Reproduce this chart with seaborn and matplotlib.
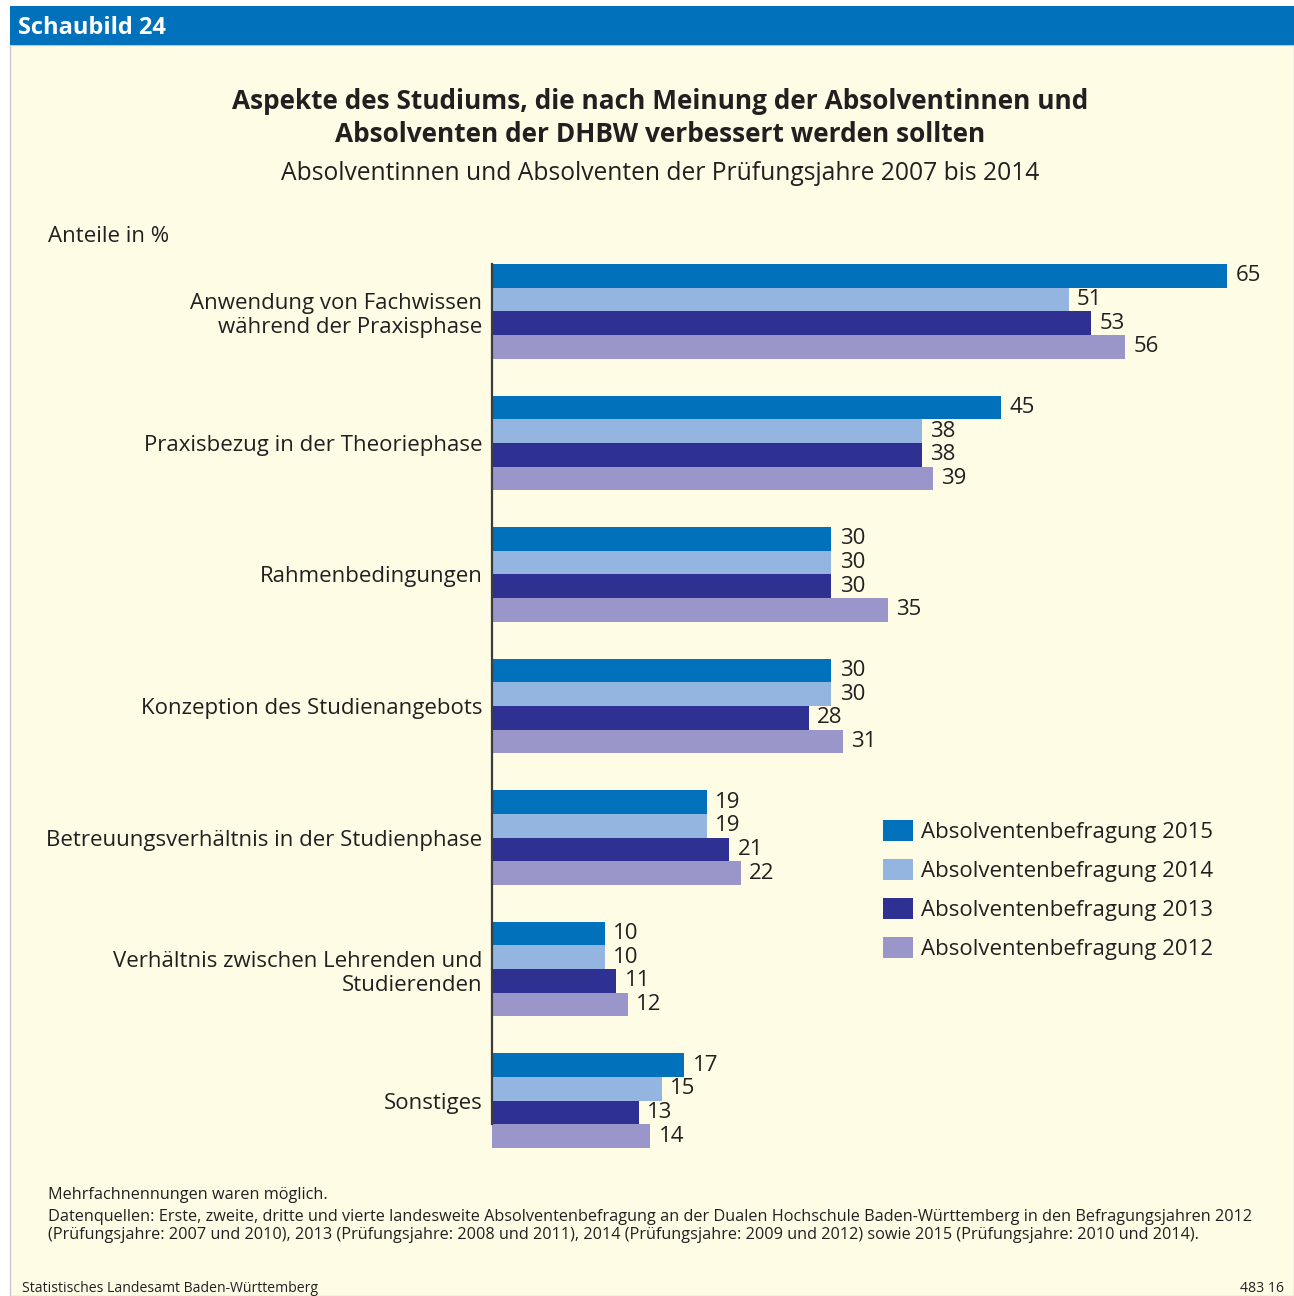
import pandas as pd
import matplotlib.pyplot as plt
import seaborn as sns
from matplotlib.patches import Patch, Rectangle

# === Data ===
categories = [
    "Anwendung von Fachwissen\nwährend der Praxisphase",
    "Praxisbezug in der Theoriephase",
    "Rahmenbedingungen",
    "Konzeption des Studienangebots",
    "Betreuungsverhältnis in der Studienphase",
    "Verhältnis zwischen Lehrenden und\nStudierenden",
    "Sonstiges",
]
years = ["Absolventenbefragung 2015", "Absolventenbefragung 2014",
         "Absolventenbefragung 2013", "Absolventenbefragung 2012"]
v2015 = [65, 45, 30, 30, 19, 10, 17]
v2014 = [51, 38, 30, 30, 19, 10, 15]
v2013 = [53, 38, 30, 28, 21, 11, 13]
v2012 = [56, 39, 35, 31, 22, 12, 14]
colors = ["#0071BA", "#94B5DF", "#2E3092", "#9B96C9"]

rows = []
for year, vals in zip(years, [v2015, v2014, v2013, v2012]):
    for cat, v in zip(categories, vals):
        rows.append({"Aspekt": cat, "Befragung": year, "Anteil": v})
df = pd.DataFrame(rows)

# === Figure ===
sns.set_theme(style="white")
plt.rcParams["font.family"] = ["Open Sans", "DejaVu Sans"]
txt = "#231F20"
bg = "#FFFCE6"
fs = 16

W, H = 1294, 1296
fig = plt.figure(figsize=(W / 100, H / 100), dpi=100, facecolor="white")

# panel background and header
fig.patches.append(Rectangle((10 / W, 0), 1 - 10 / W, 1 - 45 / H, transform=fig.transFigure,
                             facecolor=bg, edgecolor="#C8C8C8", lw=1, zorder=-2))
fig.patches.append(Rectangle((10 / W, 1 - 45 / H), 1 - 10 / W, 39 / H, transform=fig.transFigure,
                             facecolor="#0071BA", edgecolor="none", zorder=-1))
fig.text(18 / W, 1 - 28 / H, "Schaubild 24", color="white", fontsize=17, fontweight="bold",
         va="center", ha="left")

fig.text(660 / W, 1 - 118 / H,
         "Aspekte des Studiums, die nach Meinung der Absolventinnen und\nAbsolventen der DHBW verbessert werden sollten",
         ha="center", va="center", fontsize=18.9, fontweight="bold", color=txt, linespacing=1.25)
fig.text(660 / W, 1 - 174 / H, "Absolventinnen und Absolventen der Prüfungsjahre 2007 bis 2014",
         ha="center", va="center", fontsize=17.7, color=txt)
fig.text(48 / W, 1 - 237 / H, "Anteile in %", ha="left", va="center", fontsize=fs, color=txt)

# === Bars ===
ax = fig.add_axes([492 / W, 1 - 1148 / H, 735 / W, 884 / H])
ax.set_facecolor("none")
sns.barplot(data=df, y="Aspekt", x="Anteil", hue="Befragung", hue_order=years,
            palette=colors, orient="h", width=0.72, saturation=1, dodge=True,
            linewidth=0, legend=False, ax=ax)
ax.set_xlim(0, 65)
ax.set_ylim(6.36, -0.36)
for c in ax.containers:
    ax.bar_label(c, padding=6, fontsize=fs, color=txt, clip_on=False)

ax.set_xlabel("")
ax.set_ylabel("")
ax.set_xticks([])
ax.tick_params(axis="y", length=0, pad=7, labelsize=fs, labelcolor=txt)
for lab in ax.get_yticklabels():
    lab.set_horizontalalignment("right")
    lab.set_multialignment("right")
for s in ["top", "right", "bottom"]:
    ax.spines[s].set_visible(False)
ax.spines["left"].set_color("#3C3C3C")
ax.spines["left"].set_linewidth(1.6)
ax.spines["left"].set_bounds(6.18, -0.36)

handles = [Patch(facecolor=c, edgecolor="none") for c in colors]
fig.legend(handles, years, loc="upper left", bbox_to_anchor=(883 / W, 1 - 820 / H),
           frameon=False, fontsize=fs, handlelength=1.35, handleheight=1.08,
           handletextpad=0.36, labelspacing=0.72, labelcolor=txt,
           borderpad=0, borderaxespad=0)

# === Footnotes ===
fig.text(48 / W, 1 - 1195 / H, "Mehrfachnennungen waren möglich.", fontsize=11.7, color=txt,
         ha="left", va="center")
fig.text(48 / W, 1 - 1226 / H,
         "Datenquellen: Erste, zweite, dritte und vierte landesweite Absolventenbefragung an der Dualen Hochschule Baden-Württemberg in den Befragungsjahren 2012\n"
         "(Prüfungsjahre: 2007 und 2010), 2013 (Prüfungsjahre: 2008 und 2011), 2014 (Prüfungsjahre: 2009 und 2012) sowie 2015 (Prüfungsjahre: 2010 und 2014).",
         fontsize=11.7, color=txt, ha="left", va="center", linespacing=1.15)
fig.text(22 / W, 1 - 1289 / H, "Statistisches Landesamt Baden-Württemberg", fontsize=10.1,
         color=txt, ha="left", va="center")
fig.text(1284 / W, 1 - 1289 / H, "483 16", fontsize=10.1, color=txt, ha="right", va="center")

fig.savefig("out.png", dpi=100, facecolor=fig.get_facecolor())
